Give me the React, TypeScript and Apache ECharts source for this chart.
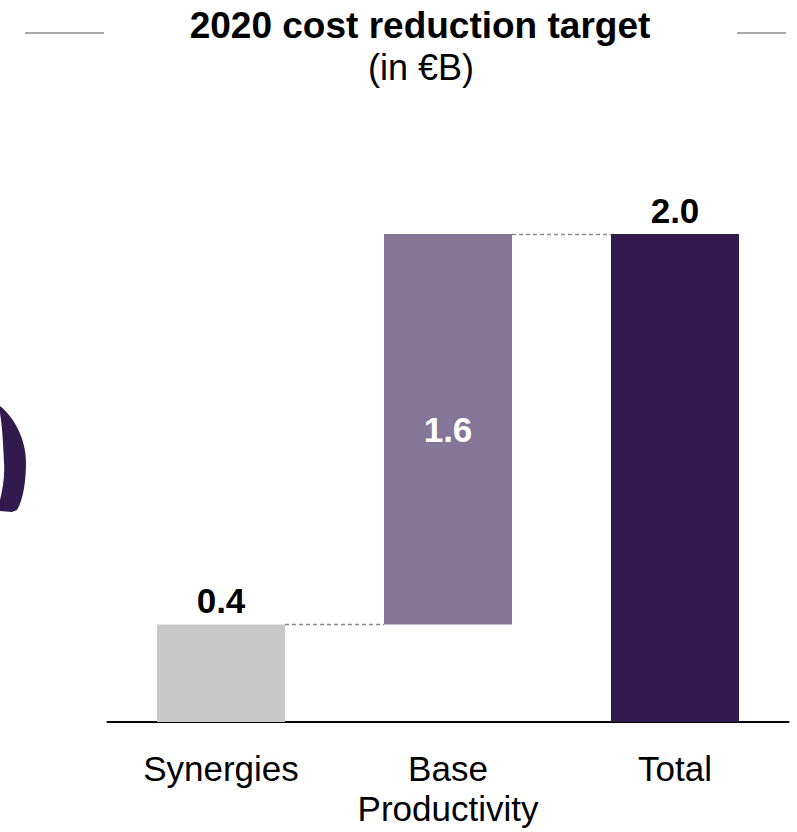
import React, { useEffect, useRef } from "react";
import * as echarts from "echarts";

const categories = ["Synergies", "Base\nProductivity", "Total"];
const values = [0.4, 1.6, 2.0];
const bases = [0, 0.4, 0];
const valueLabels = ["0.4", "1.6", "2.0"];
const barColors = ["#c8c8c8", "#857596", "#321a4f"];
const labelInside = [false, true, false];
// connector: [from category index, level]
const connectors = [
  [0, 0.4],
  [1, 2.0],
];
const titleText = "2020 cost reduction target";
const subtitleText = "(in €B)";

const FONT = '"Liberation Sans", Arial, Helvetica, sans-serif';
const BAR_W = 128;

const ARC_D =
  "M0,406 C15,418 26,440 26,462 C26,482 23,500 17,510 L12,512 L0,511 L0,500 C3,488 5,475 4,462 C3,440 2,425 0,413 Z";

let registered = false;
function ensureShape() {
  if (registered) return;
  echarts.graphic.registerShape("leftArc", echarts.graphic.extendPath(ARC_D, {}));
  registered = true;
}

export default function App() {
  const ref = useRef<HTMLDivElement>(null);
  useEffect(() => {
    if (!ref.current) return;
    ensureShape();
    const chart = echarts.init(ref.current, null, { renderer: "svg" });
    chart.setOption({
      animation: false,
      backgroundColor: "#ffffff",
      grid: {
        left: 107.5,
        right: 8.5,
        top: 112,
        bottom: 110,
        containLabel: false,
        outerBoundsMode: "none",
      },
      xAxis: {
        type: "category",
        data: categories,
        axisLine: { show: true, lineStyle: { color: "#000", width: 2 } },
        axisTick: { show: false },
        splitLine: { show: false },
        axisLabel: {
          color: "#000",
          fontSize: 35,
          lineHeight: 40,
          margin: 26,
          fontFamily: FONT,
          interval: 0,
        },
      },
      yAxis: { type: "value", min: 0, max: 2.5, show: false },
      series: [
        {
          type: "bar",
          stack: "w",
          barWidth: BAR_W,
          data: bases,
          itemStyle: { color: "transparent" },
          silent: true,
        },
        {
          type: "bar",
          stack: "w",
          barWidth: BAR_W,
          data: values.map((v, i) => ({
            value: v,
            itemStyle: { color: barColors[i] },
            label: {
              show: true,
              formatter: valueLabels[i],
              position: labelInside[i] ? "inside" : "top",
              distance: 6,
              color: labelInside[i] ? "#ffffff" : "#000000",
              fontSize: 35,
              fontWeight: "bold",
              fontFamily: FONT,
            },
          })),
        },
        {
          type: "custom",
          data: connectors,
          z: 5,
          renderItem: (params: any, api: any) => {
            const i = api.value(0);
            const lvl = api.value(1);
            const p1 = api.coord([i, lvl]);
            const p2 = api.coord([i + 1, lvl]);
            return {
              type: "line",
              shape: {
                x1: p1[0] + BAR_W / 2,
                y1: Math.round(p1[1]) + 0.5,
                x2: p2[0] - BAR_W / 2,
                y2: Math.round(p2[1]) + 0.5,
              },
              style: { stroke: "#8a8a8a", lineWidth: 1.5, lineDash: [4, 3] },
            };
          },
        },
      ],
      graphic: [
        {
          type: "text",
          x: 420,
          y: 25,
          style: {
            text: titleText,
            fontSize: 37,
            fontWeight: "bold",
            fontFamily: FONT,
            fill: "#000",
            align: "center",
            verticalAlign: "middle",
          },
        },
        {
          type: "text",
          x: 421,
          y: 67,
          style: {
            text: subtitleText,
            fontSize: 36,
            fontFamily: FONT,
            fill: "#000",
            align: "center",
            verticalAlign: "middle",
          },
        },
        {
          type: "line",
          shape: { x1: 25, y1: 33, x2: 104, y2: 33 },
          style: { stroke: "#aaaaaa", lineWidth: 2 },
        },
        {
          type: "line",
          shape: { x1: 737, y1: 33, x2: 786, y2: 33 },
          style: { stroke: "#aaaaaa", lineWidth: 2 },
        },
        {
          type: "leftArc",
          x: 0,
          y: 0,
          style: { fill: "#321a4f" },
        },
      ],
    });
    return () => chart.dispose();
  }, []);
  return (
    <div
      ref={ref}
      style={{ position: "fixed", left: 0, top: 0, width: 797, height: 832 }}
    />
  );
}
